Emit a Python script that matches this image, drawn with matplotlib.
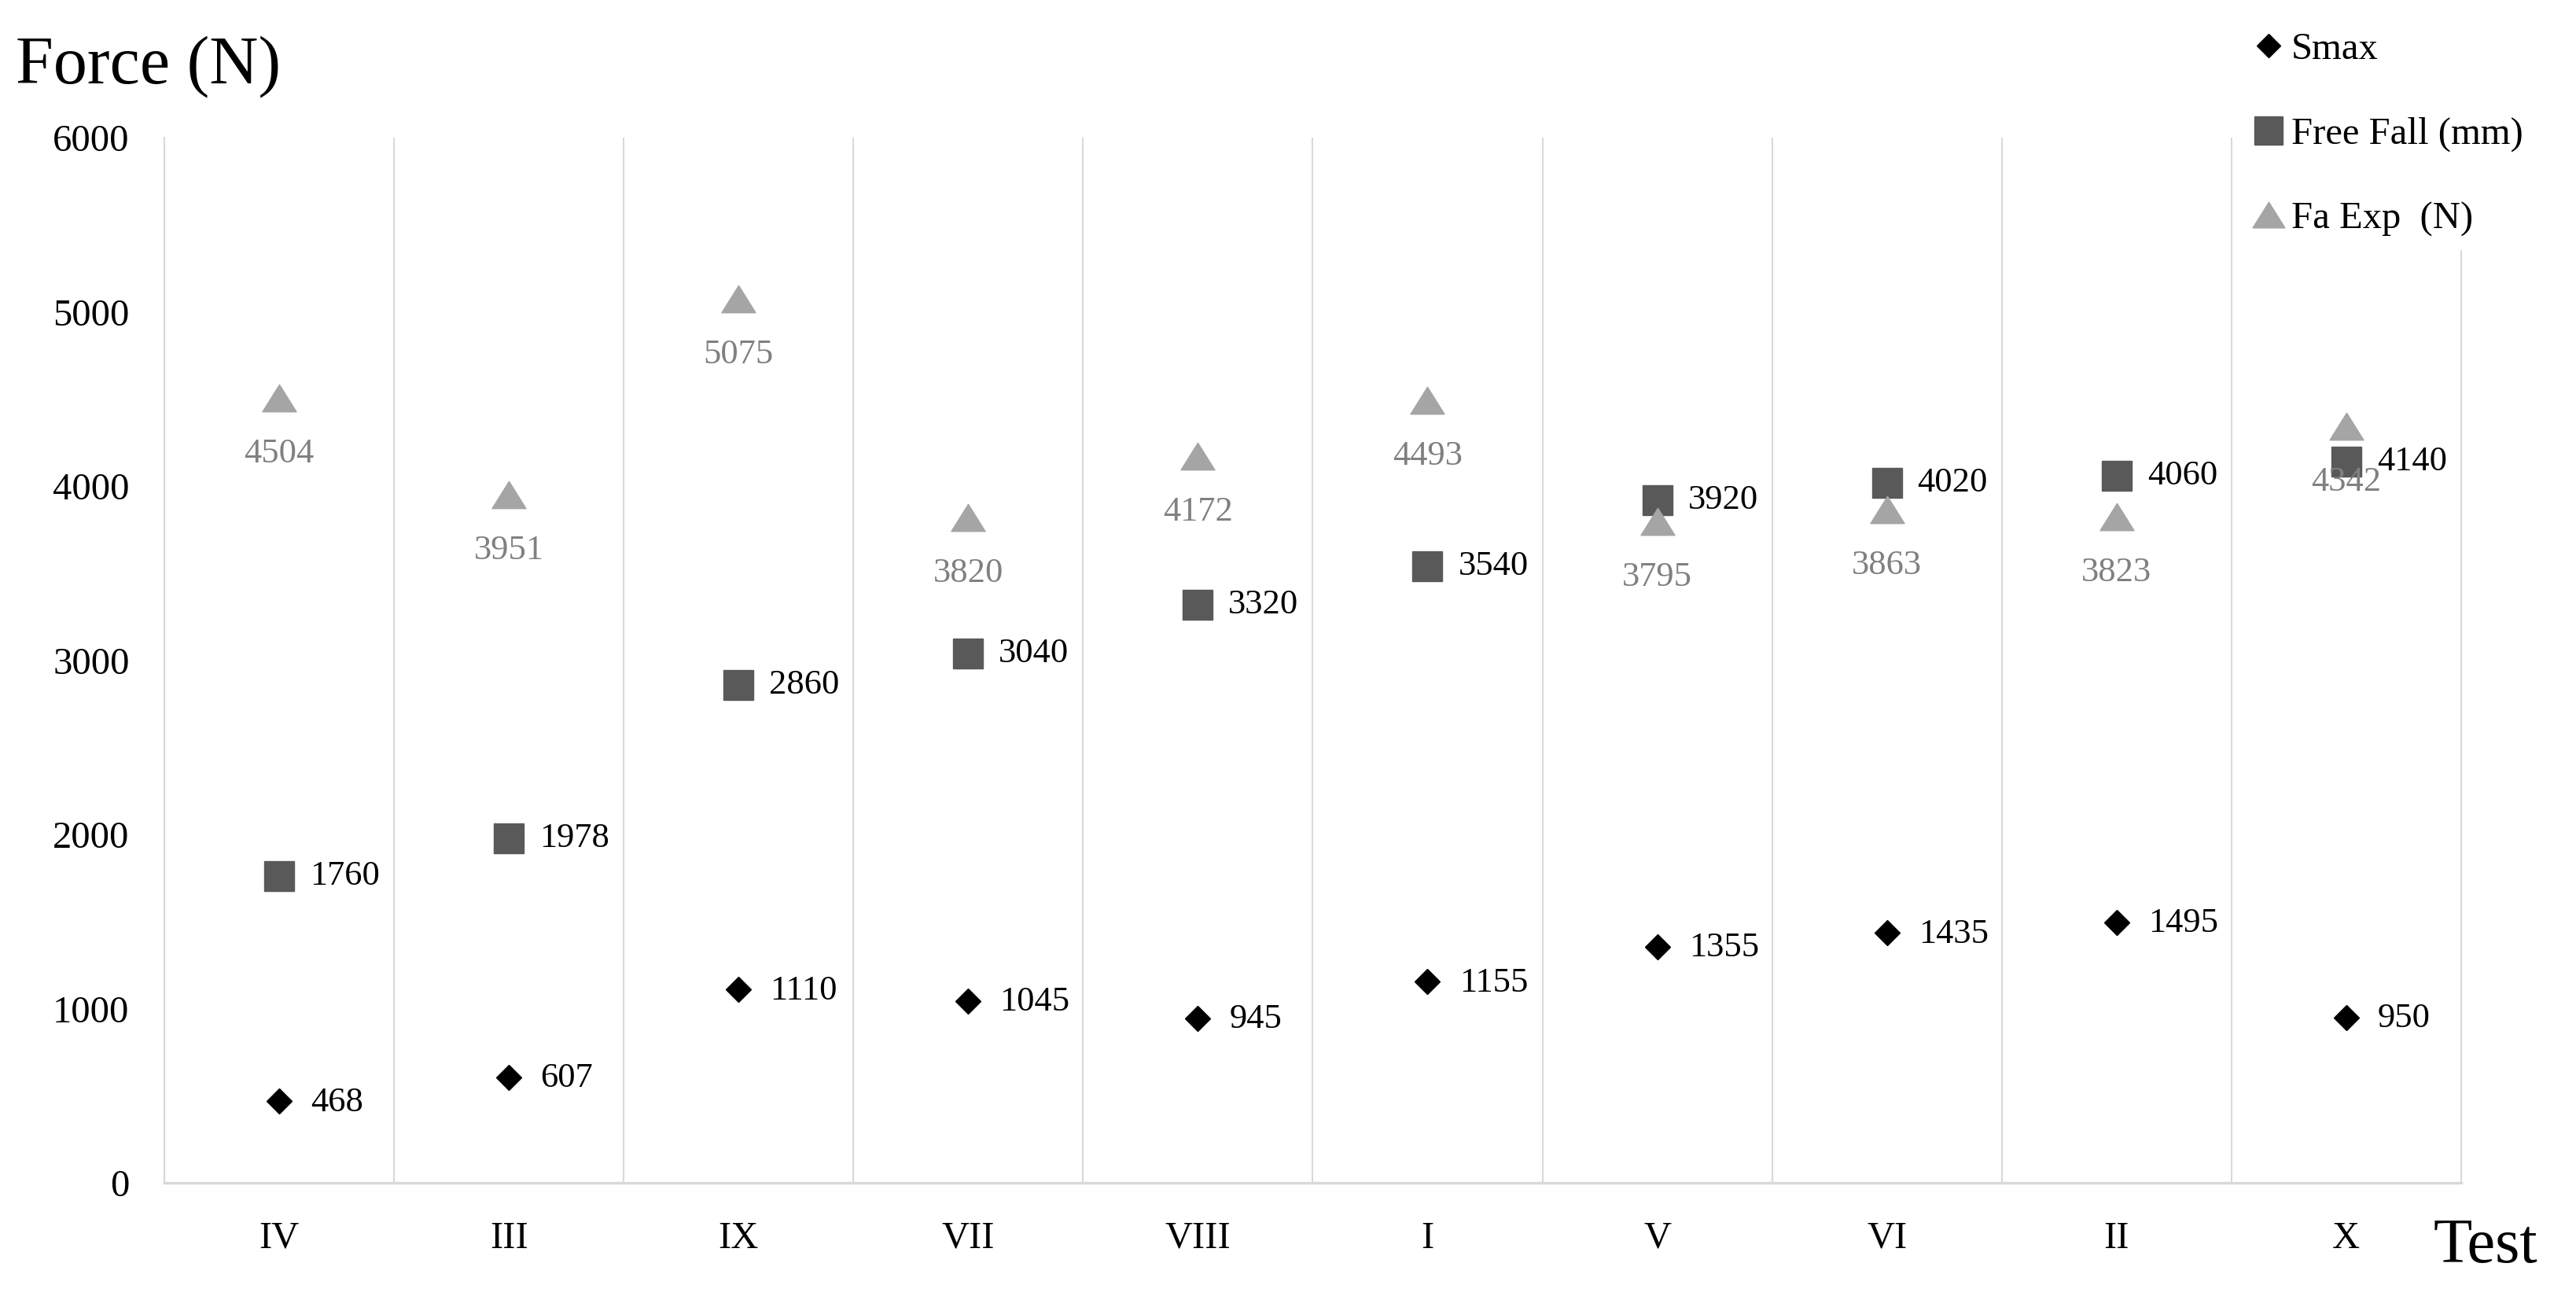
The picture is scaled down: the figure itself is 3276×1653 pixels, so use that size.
import numpy as np
import matplotlib
matplotlib.use("Agg")
import matplotlib.pyplot as plt
from matplotlib.path import Path

plt.rcParams['font.family'] = ['Liberation Serif', 'DejaVu Serif']

# data
tests = ["IV", "III", "IX", "VII", "VIII", "I", "V", "VI", "II", "X"]
smax = [468, 607, 1110, 1045, 945, 1155, 1355, 1435, 1495, 950]
free_fall = [1760, 1978, 2860, 3040, 3320, 3540, 3920, 4020, 4060, 4140]
fa_exp = [4504, 3951, 5075, 3820, 4172, 4493, 3795, 3863, 3823, 4342]

GRID = "#d9d9d9"
# flat, wide triangle like the spreadsheet one
tri = Path([(-1, -0.8), (1, -0.8), (0, 0.8), (-1, -0.8)],
           [Path.MOVETO, Path.LINETO, Path.LINETO, Path.CLOSEPOLY])

fig = plt.figure(figsize=(32.76, 16.53), dpi=100)
ax = fig.add_axes([0.0638, 0.0901, 0.8916, 0.8040])

x = np.arange(len(tests))
ax.plot(x, smax, linestyle="none", marker="D", ms=16, color="black",
        label="Smax", zorder=4)
ax.plot(x, free_fall, linestyle="none", marker="s", ms=27, color="#595959",
        label="Free Fall (mm)", zorder=3)
ax.plot(x, fa_exp, linestyle="none", marker=tri, ms=31, color="#a5a5a5",
        label="Fa Exp  (N)", zorder=3)

for xi, v in zip(x, smax):
    ax.annotate(str(v), (xi, v), xytext=(29, -1), textcoords="offset points",
                ha="left", va="center", fontsize=32, color="black")
for xi, v in zip(x, free_fall):
    ax.annotate(str(v), (xi, v), xytext=(28, 0), textcoords="offset points",
                ha="left", va="center", fontsize=32, color="black")
for xi, v in zip(x, fa_exp):
    ax.annotate(str(v), (xi, v), xytext=(0, -51), textcoords="offset points",
                ha="center", va="center", fontsize=32, color="#808080")

ax.set_xlim(-0.5, len(tests) - 0.5)
ax.set_ylim(0, 6000)
ax.set_yticks(np.arange(0, 6001, 1000))
ax.set_xticks(x)
ax.set_xticklabels(tests)
ax.set_xticks(np.arange(-0.5, len(tests)), minor=True)
ax.grid(which="minor", axis="x", color=GRID, lw=1.5)
ax.tick_params(which="both", length=0)
ax.tick_params(axis="y", labelsize=35, pad=32)
ax.tick_params(axis="x", labelsize=35, pad=35)

ax.spines["top"].set_visible(False)
for s in ("left", "right"):
    ax.spines[s].set_color(GRID)
    ax.spines[s].set_linewidth(1.5)
ax.spines["bottom"].set_color(GRID)
ax.spines["bottom"].set_linewidth(2.5)

fig.text(0.006, 0.949, "Force (N)", fontsize=62, va="center", ha="left")
fig.text(0.9445, 0.041, "Test", fontsize=58, va="center", ha="left")

leg = fig.legend(loc="upper right", bbox_to_anchor=(0.992, 1.0), fontsize=35,
                 frameon=True, facecolor="white", edgecolor="none",
                 framealpha=1, handlelength=0.8, handletextpad=0.2,
                 labelspacing=1.3, markerscale=0.95, borderpad=0.35)
leg.set_zorder(10)

fig.savefig("out.png", dpi=100)
